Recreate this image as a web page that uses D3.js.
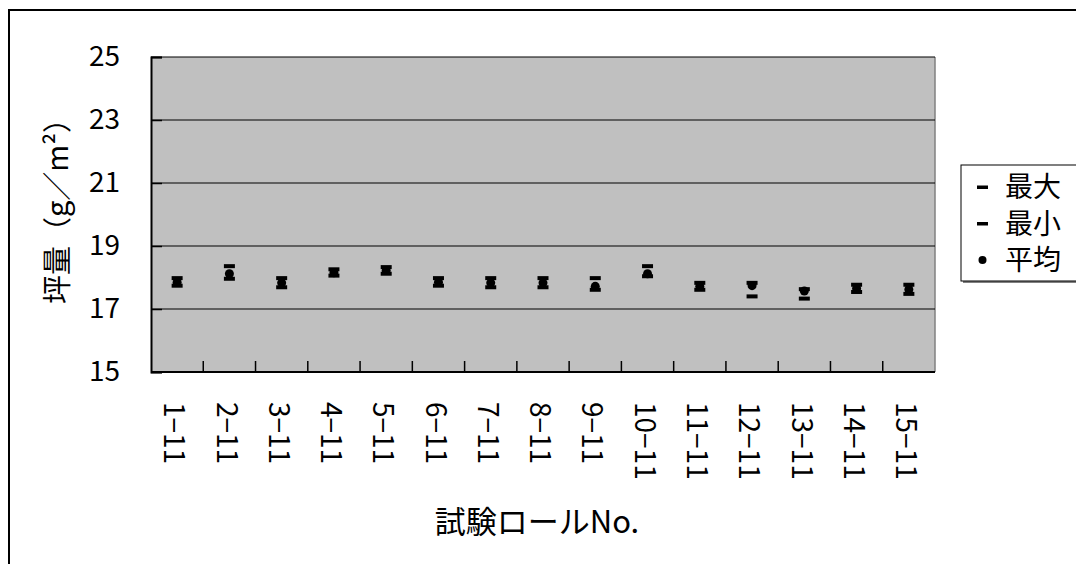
<!DOCTYPE html>
<html>
<head>
<meta charset="utf-8">
<script src="https://cdn.jsdelivr.net/npm/d3@7"></script>
<style>
  html, body { margin: 0; padding: 0; background: #fff; }
  svg { display: block; }
  text { font-family: "Noto Sans CJK JP", "Noto Sans", sans-serif; fill: #000; }
</style>
</head>
<body>
<svg id="chart" width="1076" height="564"></svg>
<script>
// ---- data ----
const categories = ["1−11","2−11","3−11","4−11","5−11","6−11","7−11","8−11","9−11","10−11","11−11","12−11","13−11","14−11","15−11"];
const maxValues  = [17.98,18.36,17.98,18.26,18.33,17.98,17.98,17.98,17.98,18.36,17.83,17.83,17.63,17.77,17.77];
const minValues  = [17.74,17.96,17.69,18.06,18.12,17.74,17.69,17.69,17.61,18.04,17.61,17.40,17.33,17.54,17.48];
const avgValues  = [17.85,18.12,17.83,18.15,18.22,17.85,17.83,17.83,17.72,18.12,17.72,17.74,17.57,17.65,17.62];
const yTicks = [15,17,19,21,23,25];
const yTitle = "坪量（g／m²）";
const xTitle = "試験ロールNo.";
const legendItems = ["最大","最小","平均"];

// ---- layout ----
const svg = d3.select("#chart");
const plot = {left: 151, right: 935, top: 57, bottom: 372};

svg.append("rect").attr("width",1076).attr("height",564).attr("fill","#fff");
// outer chart border
svg.append("rect").attr("x",9).attr("y",10).attr("width",1100).attr("height",600)
  .attr("fill","none").attr("stroke","#000").attr("stroke-width",2);

const x = d3.scaleBand().domain(categories).range([plot.left, plot.right]).padding(0);
const y = d3.scaleLinear().domain([15,25]).range([plot.bottom, plot.top]);

// plot background
svg.append("rect").attr("x",plot.left).attr("y",plot.top)
  .attr("width",plot.right-plot.left).attr("height",plot.bottom-plot.top)
  .attr("fill","#c0c0c0");
// right border gray
svg.append("line").attr("x1",plot.right).attr("x2",plot.right).attr("y1",plot.top).attr("y2",plot.bottom)
  .attr("stroke","#808080").attr("stroke-width",1.5);

// gridlines
svg.append("g").selectAll("line").data(yTicks.filter(d=>d!==15)).join("line")
  .attr("x1",plot.left).attr("x2",plot.right)
  .attr("y1",d=>y(d)).attr("y2",d=>y(d))
  .attr("stroke","#000").attr("stroke-width",1.2);

// y axis
const yAxis = d3.axisLeft(y).tickValues(yTicks).tickSize(-11).tickPadding(31).tickFormat(d3.format("d"));
const gy = svg.append("g").attr("transform",`translate(${plot.left},0)`).call(yAxis);
gy.select(".domain").attr("stroke","#000").attr("stroke-width",2);
gy.selectAll(".tick line").attr("stroke","#000").attr("stroke-width",1.5);
gy.selectAll(".tick text").attr("font-size",28).attr("font-family","'Noto Sans CJK JP'").attr("fill","#000");

// x axis (ticks at category boundaries, inside)
const gx = svg.append("g").attr("transform",`translate(0,${plot.bottom})`);
gx.append("line").attr("x1",plot.left).attr("x2",plot.right).attr("y1",0).attr("y2",0)
  .attr("stroke","#000").attr("stroke-width",2);
gx.selectAll("line.bt").data(categories.slice(1)).join("line").attr("class","bt")
  .attr("x1",d=>x(d)).attr("x2",d=>x(d)).attr("y1",0).attr("y2",-11)
  .attr("stroke","#000").attr("stroke-width",1.5);
gx.selectAll("text").data(categories).join("text")
  .attr("transform",d=>`translate(${x(d)+x.bandwidth()/2-3},30) rotate(90)`)
  .attr("dy","0.35em").attr("text-anchor","start")
  .attr("font-size",28).text(d=>d);

// markers
const g = svg.append("g");
const dashW = 11, dashH = 4;
g.selectAll("rect.mx").data(categories).join("rect").attr("class","mx")
  .attr("x",d=>x(d)+x.bandwidth()/2-dashW/2).attr("y",(d,i)=>y(maxValues[i])-dashH/2)
  .attr("width",dashW).attr("height",dashH).attr("fill","#000");
g.selectAll("rect.mn").data(categories).join("rect").attr("class","mn")
  .attr("x",d=>x(d)+x.bandwidth()/2-dashW/2).attr("y",(d,i)=>y(minValues[i])-dashH/2)
  .attr("width",dashW).attr("height",dashH).attr("fill","#000");
g.selectAll("circle.av").data(categories).join("circle").attr("class","av")
  .attr("cx",d=>x(d)+x.bandwidth()/2).attr("cy",(d,i)=>y(avgValues[i]))
  .attr("r",4.5).attr("fill","#000");

// axis titles
svg.append("text").attr("transform",`translate(68,204) rotate(-90)`)
  .attr("text-anchor","middle").attr("font-size",29).text(yTitle);
svg.append("text").attr("x",537).attr("y",533)
  .attr("text-anchor","middle").attr("font-size",31).text(xTitle);

// legend
const lg = svg.append("g");
lg.append("rect").attr("x",963).attr("y",167).attr("width",200).attr("height",116).attr("fill","#808080");
lg.append("rect").attr("x",961).attr("y",165).attr("width",200).attr("height",116)
  .attr("fill","#fff").attr("stroke","#000").attr("stroke-width",1);
const ly = d3.scalePoint().domain(legendItems).range([187,260]);
legendItems.forEach((name,i)=>{
  const cy = ly(name);
  if (i < 2) {
    lg.append("rect").attr("x",977).attr("y",cy-1.5).attr("width",11).attr("height",3.5).attr("fill","#000");
  } else {
    lg.append("circle").attr("cx",982.5).attr("cy",cy).attr("r",4).attr("fill","#000");
  }
  lg.append("text").attr("x",1005).attr("y",cy).attr("dy","0.36em").attr("font-size",28).text(name);
});
</script>
</body>
</html>
